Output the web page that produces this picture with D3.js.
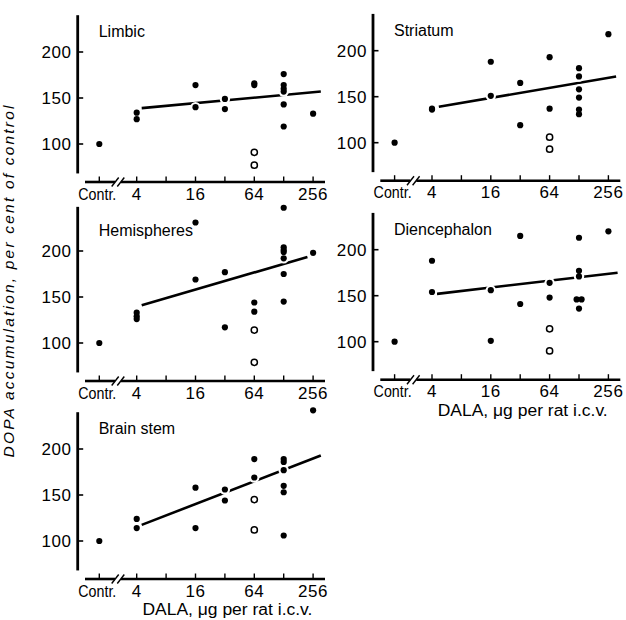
<!DOCTYPE html>
<html><head><meta charset="utf-8">
<script src="https://cdn.jsdelivr.net/npm/d3@7/dist/d3.min.js"></script>
<style>
html,body{margin:0;padding:0;background:#fff;}
svg{display:block;}
text{font-family:"Liberation Sans",Arial,Helvetica,sans-serif;fill:#000;}
</style></head>
<body>
<svg id="chart" width="626" height="620"></svg>
<script>
// ---------- data ----------
const panelNames = ["Limbic", "Striatum", "Hemispheres", "Diencephalon", "Brain stem"];
const doseTicks = [4, 8, 16, 32, 64, 128, 256];
const doseLabels = [4, 16, 64, 256];
const controlLabel = "Contr.";
const yTickValues = [100, 150, 200];
const xAxisTitle = "DALA, \u03bcg per rat i.c.v.";
const yAxisTitle = "DOPA accumulation, per cent of control";

// [dose, value]; dose 0 = control
const limbicDots = [[0,100],[4,134],[4,127],[16,164],[16,140],[32,149],[32,138],[64,166],[64,164],[128,176],[128,164],[128,160],[128,157],[128,143],[128,119],[256,133]];
const limbicOpen = [[64,91],[64,77]];
const limbicFit = [[4.5,139],[307,157]];

const striatumDots = [[0,100],[4,136],[4,137],[16,188],[16,151],[32,165],[32,119],[64,193],[64,137],[128,181],[128,172],[128,158],[128,149],[128,136],[128,131],[256,218]];
const striatumOpen = [[64,106],[64,93]];
const striatumFit = [[4.7,139],[307,172]];

const hemispheresDots = [[0,100],[4,133],[4,129],[4,126],[16,169],[16,231],[32,177],[32,117],[64,144],[64,134],[128,247],[128,204],[128,201],[128,199],[128,192],[128,175],[128,145],[256,198]];
const hemispheresOpen = [[64,114],[64,79]];
const hemispheresFit = [[4.5,141],[224,193.5]];

const diencephalonDots = [[0,100],[4,188],[4,154],[16,156],[16,101],[32,215],[32,141],[64,164],[64,148],[128,213],[128,177],[128,171],[121,146],[136,146],[128,136],[256,220]];
const diencephalonOpen = [[64,114],[64,90]];
const diencephalonFit = [[4.5,152],[318,175]];

const brainstemDots = [[0,100],[4,124],[4,114],[16,158],[16,114],[32,156],[32,144],[64,189],[64,169],[128,189],[128,186],[128,177],[128,160],[128,153],[128,106],[256,242]];
const brainstemOpen = [[64,145],[64,112]];
const brainstemFit = [[4.5,117.5],[307,193]];

// ---------- layout ----------
const layout = [
  {ox:77.7, oy:144,   yMax:240, xTitle:false},
  {ox:373,  oy:142.7, yMax:240, xTitle:false},
  {ox:77.7, oy:343,   yMax:248, xTitle:false},
  {ox:373,  oy:341.7, yMax:240, xTitle:true},
  {ox:77.7, oy:541,   yMax:240, xTitle:true}
];
const dotSets = [limbicDots, striatumDots, hemispheresDots, diencephalonDots, brainstemDots];
const openSets = [limbicOpen, striatumOpen, hemispheresOpen, diencephalonOpen, brainstemOpen];
const fitSets = [limbicFit, striatumFit, hemispheresFit, diencephalonFit, brainstemFit];

const svg = d3.select("#chart");

panelNames.forEach((name, i) => {
  const L = layout[i];
  const g = svg.append("g");
  const x = d3.scaleLog().base(2).domain([4, 256]).range([L.ox + 59, L.ox + 59 + 6 * 29.4]);
  const xContr = L.ox + 21.6;
  const xp = d => d === 0 ? xContr : x(d);
  const y = d3.scaleLinear().domain([100, 200]).range([L.oy, L.oy - 92]);
  const axisY = L.oy + 38;

  // y axis
  g.append("line").attr("x1", L.ox).attr("x2", L.ox)
    .attr("y1", y(L.yMax)).attr("y2", y(68))
    .attr("stroke", "#000").attr("stroke-width", 2.8);
  yTickValues.forEach(v => {
    g.append("line").attr("x1", L.ox).attr("x2", L.ox + 5.5)
      .attr("y1", y(v)).attr("y2", y(v)).attr("stroke", "#000").attr("stroke-width", 1.6);
    g.append("text").attr("x", L.ox - 6).attr("y", y(v) + 6)
      .attr("text-anchor", "end").attr("font-size", 17).attr("letter-spacing", 0.6)
      .text(v);
  });

  // x axis with break
  const xBreak = (xContr + x(4)) / 2;
  g.append("line").attr("x1", L.ox + 7.3).attr("x2", xBreak - 3)
    .attr("y1", axisY).attr("y2", axisY).attr("stroke", "#000").attr("stroke-width", 2.6);
  g.append("line").attr("x1", xBreak + 3).attr("x2", L.ox + 247.3)
    .attr("y1", axisY).attr("y2", axisY).attr("stroke", "#000").attr("stroke-width", 2.6);
  [-2.8, 2.8].forEach(dx => {
    g.append("line").attr("x1", xBreak + dx - 3.5).attr("x2", xBreak + dx + 3.5)
      .attr("y1", axisY + 4.5).attr("y2", axisY - 4.5)
      .attr("stroke", "#000").attr("stroke-width", 1.4);
  });
  const tickXs = [xContr].concat(doseTicks.map(d => x(d)));
  tickXs.forEach(tx => {
    g.append("line").attr("x1", tx).attr("x2", tx)
      .attr("y1", axisY).attr("y2", axisY - 5.5).attr("stroke", "#000").attr("stroke-width", 1.4);
  });
  g.append("text").attr("x", xContr - 2).attr("y", axisY + 17.5)
    .attr("text-anchor", "middle").attr("font-size", 16.5)
    .attr("textLength", 38).attr("lengthAdjust", "spacingAndGlyphs")
    .text(controlLabel);
  doseLabels.forEach(d => {
    g.append("text").attr("x", x(d)).attr("y", axisY + 17.5)
      .attr("text-anchor", "middle").attr("font-size", 17).attr("letter-spacing", 0.6)
      .text(d);
  });

  // title
  g.append("text").attr("x", L.ox + 21).attr("y", L.oy - 107)
    .attr("font-size", 16).text(name);

  // regression line
  const line = d3.line().x(d => xp(d[0])).y(d => y(d[1]));
  g.append("path").datum(fitSets[i]).attr("d", line)
    .attr("fill", "none").attr("stroke", "#000").attr("stroke-width", 2.6);

  // halos then dots
  g.selectAll(".halo").data(dotSets[i]).join("circle")
    .attr("cx", d => xp(d[0])).attr("cy", d => y(d[1])).attr("r", 5.2).attr("fill", "#fff");
  g.selectAll(".dot").data(dotSets[i]).join("circle")
    .attr("cx", d => xp(d[0])).attr("cy", d => y(d[1])).attr("r", 3.1).attr("fill", "#000");
  g.selectAll(".open").data(openSets[i]).join("circle")
    .attr("cx", d => xp(d[0])).attr("cy", d => y(d[1])).attr("r", 3.1)
    .attr("fill", "#fff").attr("stroke", "#000").attr("stroke-width", 1.5);

  if (L.xTitle) {
    const cx = (x(4) + x(256)) / 2 + 2.5;
    g.append("text").attr("x", cx).attr("y", axisY + 36)
      .attr("text-anchor", "middle").attr("font-size", 16)
      .attr("textLength", 170).attr("lengthAdjust", "spacingAndGlyphs")
      .text(xAxisTitle);
  }
});

// y axis title
svg.append("text")
  .attr("transform", "translate(14,281.5) rotate(-90)")
  .attr("text-anchor", "middle").attr("font-size", 15.5).attr("font-style", "italic")
  .attr("textLength", 352).attr("lengthAdjust", "spacing")
  .text(yAxisTitle);
</script>
</body></html>
